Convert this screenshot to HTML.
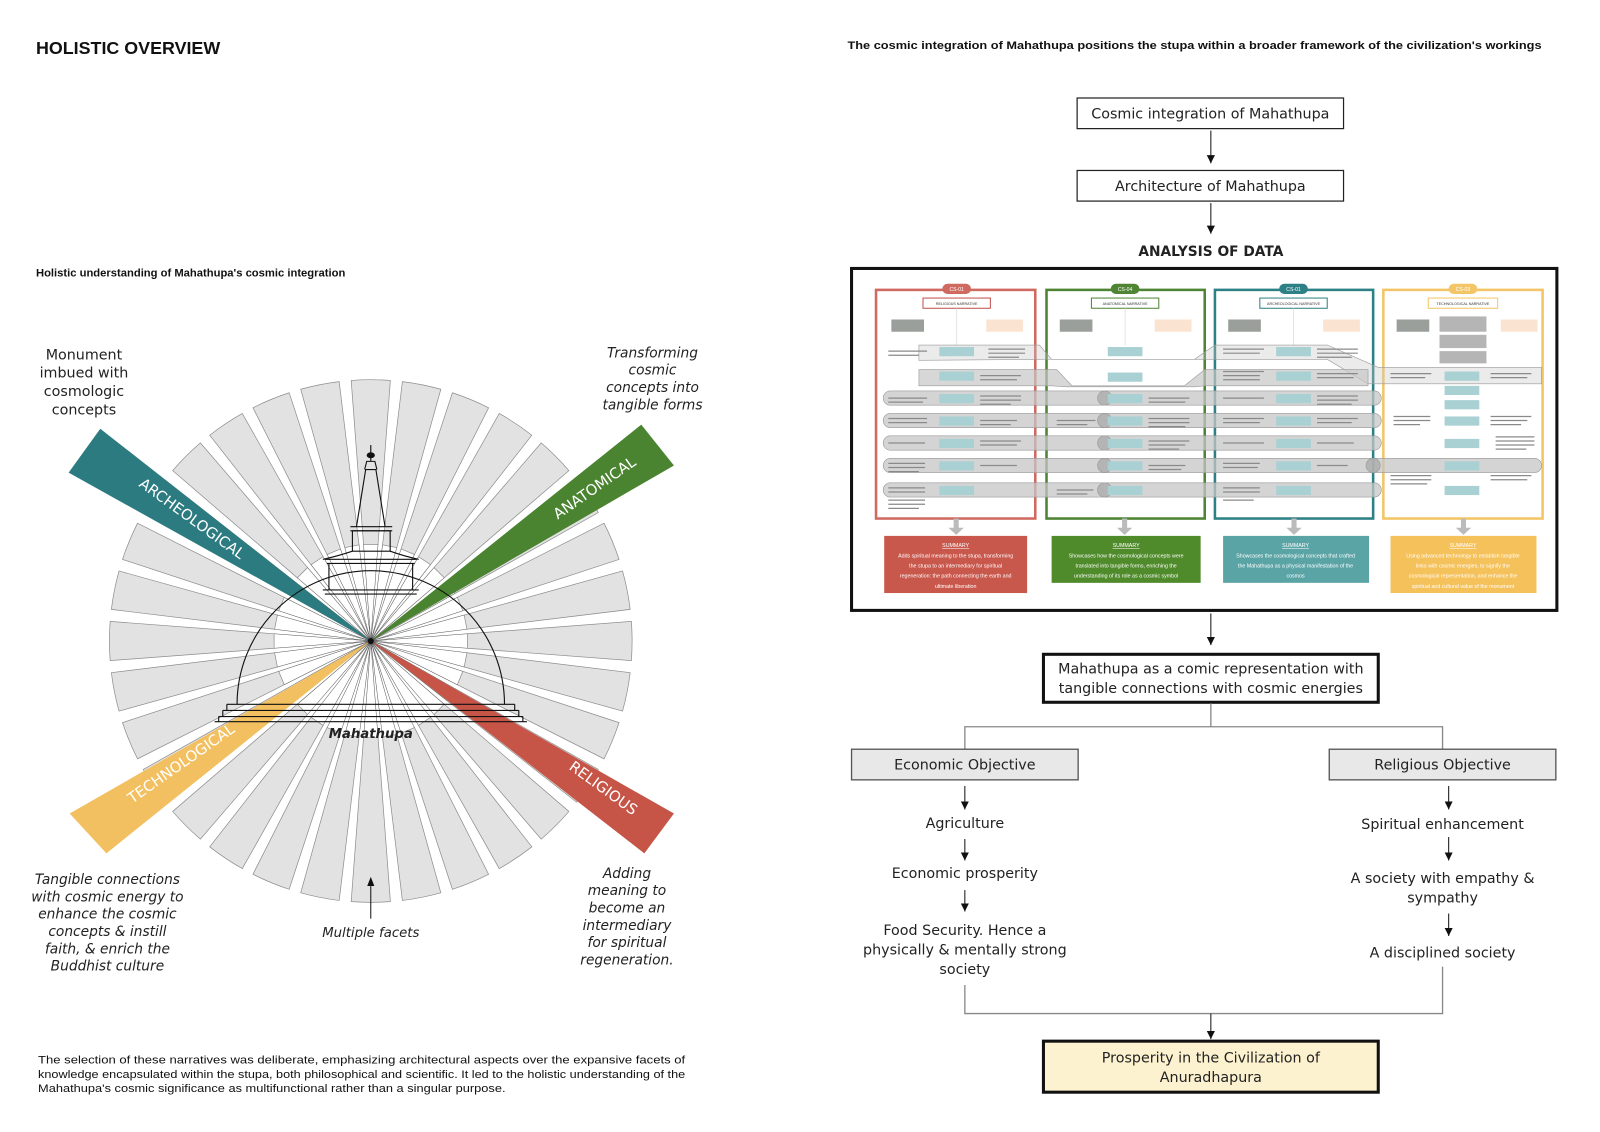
<!DOCTYPE html>
<html><head><meta charset="utf-8">
<style>
html,body{margin:0;padding:0;background:#fff;}
svg{display:block;}
.sans{font-family:"Liberation Sans",Arial,sans-serif;}
.fc{font-family:"DejaVu Sans","Liberation Sans",sans-serif;}
</style></head>
<body>
<svg width="1600" height="1132" viewBox="0 0 1567 1109" xmlns="http://www.w3.org/2000/svg">
<defs>
  <g id="wd">
    <path d="M355.9,533.3 L343.8,372.7 A256,256 0 0 1 382.2,372.7 L370.1,533.3 Z" fill="#e2e2e2" stroke="#8c8c8c" stroke-width="0.7"/>
    <line x1="363" y1="628" x2="355.9" y2="533.3" stroke="#555" stroke-width="0.5"/>
    <line x1="363" y1="628" x2="370.1" y2="533.3" stroke="#555" stroke-width="0.5"/>
  </g>
  <marker id="ah" markerWidth="9" markerHeight="9" refX="8" refY="4" orient="auto" markerUnits="userSpaceOnUse">
    <path d="M0,0 L8,4 L0,8 Z" fill="#111"/>
  </marker>
</defs>

<!-- LEFT -->
<text x="35" y="53" class="sans" font-size="17.5" font-weight="bold" fill="#111">HOLISTIC OVERVIEW</text>
<text x="35" y="271" class="sans" font-size="11" font-weight="bold" fill="#111">Holistic understanding of Mahathupa's cosmic integration</text>

<g>
<use href="#wd" transform="rotate(0 363 628)"/><use href="#wd" transform="rotate(11.25 363 628)"/>
<use href="#wd" transform="rotate(22.5 363 628)"/><use href="#wd" transform="rotate(33.75 363 628)"/>
<use href="#wd" transform="rotate(45 363 628)"/><use href="#wd" transform="rotate(56.25 363 628)"/>
<use href="#wd" transform="rotate(67.5 363 628)"/><use href="#wd" transform="rotate(78.75 363 628)"/>
<use href="#wd" transform="rotate(90 363 628)"/><use href="#wd" transform="rotate(101.25 363 628)"/>
<use href="#wd" transform="rotate(112.5 363 628)"/><use href="#wd" transform="rotate(123.75 363 628)"/>
<use href="#wd" transform="rotate(135 363 628)"/><use href="#wd" transform="rotate(146.25 363 628)"/>
<use href="#wd" transform="rotate(157.5 363 628)"/><use href="#wd" transform="rotate(168.75 363 628)"/>
<use href="#wd" transform="rotate(180 363 628)"/><use href="#wd" transform="rotate(191.25 363 628)"/>
<use href="#wd" transform="rotate(202.5 363 628)"/><use href="#wd" transform="rotate(213.75 363 628)"/>
<use href="#wd" transform="rotate(225 363 628)"/><use href="#wd" transform="rotate(236.25 363 628)"/>
<use href="#wd" transform="rotate(247.5 363 628)"/><use href="#wd" transform="rotate(258.75 363 628)"/>
<use href="#wd" transform="rotate(270 363 628)"/><use href="#wd" transform="rotate(281.25 363 628)"/>
<use href="#wd" transform="rotate(292.5 363 628)"/><use href="#wd" transform="rotate(303.75 363 628)"/>
<use href="#wd" transform="rotate(315 363 628)"/><use href="#wd" transform="rotate(326.25 363 628)"/>
<use href="#wd" transform="rotate(337.5 363 628)"/><use href="#wd" transform="rotate(348.75 363 628)"/>
</g>

<polygon points="363,628 98,420 67,463" fill="#2b7b80"/>
<polygon points="363,628 628,416 660,456" fill="#4a8430"/>
<polygon points="363,628 660,797 631,836" fill="#c65447"/>
<polygon points="363,628 68,797 104,836" fill="#f2c061"/>
<text class="fc" font-size="14.5" fill="#fff" text-anchor="middle" transform="translate(185,512) rotate(36)">ARCHEOLOGICAL</text>
<text class="fc" font-size="14.5" fill="#fff" text-anchor="middle" transform="translate(585,482) rotate(-35)">ANATOMICAL</text>
<text class="fc" font-size="14.5" fill="#fff" text-anchor="middle" transform="translate(180,752) rotate(-35)">TECHNOLOGICAL</text>
<text class="fc" font-size="14.5" fill="#fff" text-anchor="middle" transform="translate(588,776) rotate(36)">RELIGIOUS</text>

<g fill="none" stroke="#111" stroke-width="1.1">
  <path d="M232,690 A131,131 0 0 1 494,690"/>
  <path d="M318,548 L408,548 M320,552 L406,552 M322,552 L322,578 M404,552 L404,578 M316,578 L410,578 M318,582 L408,582"/>
  <path d="M316,548 Q330,545 345,540 M410,548 Q396,545 382,540"/>
  <rect x="345" y="520" width="37" height="20"/>
  <path d="M343,520 L384,520 M343,516 L384,516"/>
  <path d="M349,516 L358,460 L368,460 L377,516"/>
  <path d="M357,460 L359,452 L367,452 L369,460"/>
  <path d="M363,452 L363,436"/>
  <path d="M222,690 L504,690 M218,696 L508,696 M214,702 L512,702 M210,707 L516,707"/>
  <path d="M222,690 L222,696 M504,690 L504,696 M218,696 L218,702 M508,696 L508,702 M214,702 L214,707 M512,702 L512,707"/>
</g>
<ellipse cx="363" cy="446" rx="4" ry="3" fill="#111"/>
<circle cx="363" cy="628" r="3" fill="#111"/>
<text x="363" y="723" class="fc" font-size="13" font-style="italic" font-weight="bold" fill="#222" text-anchor="middle">Mahathupa</text>

<line x1="363" y1="900" x2="363" y2="866" stroke="#111" stroke-width="1"/>
<path d="M359.5,868 L363,859 L366.5,868 Z" fill="#111"/>
<text x="363" y="918" class="fc" font-size="13" font-style="italic" fill="#222" text-anchor="middle">Multiple facets</text>

<g class="fc" font-size="14" fill="#222" text-anchor="middle">
  <text x="82" y="352">Monument</text><text x="82" y="370">imbued with</text>
  <text x="82" y="388">cosmologic</text><text x="82" y="406">concepts</text>
</g>
<g class="fc" font-size="13.5" fill="#222" text-anchor="middle" font-style="italic">
  <text x="639" y="350">Transforming</text><text x="639" y="367">cosmic</text>
  <text x="639" y="384">concepts into</text><text x="639" y="401">tangible forms</text>
  <text x="105" y="866">Tangible connections</text><text x="105" y="883">with cosmic energy to</text>
  <text x="105" y="900">enhance the cosmic</text><text x="105" y="917">concepts &amp; instill</text>
  <text x="105" y="934">faith, &amp; enrich the</text><text x="105" y="951">Buddhist culture</text>
  <text x="614" y="860">Adding</text><text x="614" y="877">meaning to</text>
  <text x="614" y="894">become an</text><text x="614" y="911">intermediary</text>
  <text x="614" y="928">for spiritual</text><text x="614" y="945">regeneration.</text>
</g>

<g class="sans" font-size="11" fill="#111">
  <text x="37" y="1042" textLength="634" lengthAdjust="spacingAndGlyphs">The selection of these narratives was deliberate, emphasizing architectural aspects over the expansive facets of</text>
  <text x="37" y="1056" textLength="634" lengthAdjust="spacingAndGlyphs">knowledge encapsulated within the stupa, both philosophical and scientific. It led to the holistic understanding of the</text>
  <text x="37" y="1070" textLength="458" lengthAdjust="spacingAndGlyphs">Mahathupa's cosmic significance as multifunctional rather than a singular purpose.</text>
</g>

<!-- RIGHT -->
<text x="830" y="48" class="sans" font-size="11" font-weight="bold" fill="#111" textLength="680" lengthAdjust="spacingAndGlyphs">The cosmic integration of Mahathupa positions the stupa within a broader framework of the civilization's workings</text>

<g class="fc" fill="#222">
<rect x="1055" y="96" width="261" height="30" fill="#fff" stroke="#222" stroke-width="1.2"/>
<text x="1185.5" y="116" font-size="14" text-anchor="middle">Cosmic integration of Mahathupa</text>
<line x1="1186" y1="128" x2="1186" y2="160" stroke="#111" marker-end="url(#ah)"/>
<rect x="1055" y="167" width="261" height="30" fill="#fff" stroke="#222" stroke-width="1.2"/>
<text x="1185.5" y="187" font-size="14" text-anchor="middle">Architecture of Mahathupa</text>
<line x1="1186" y1="199" x2="1186" y2="229" stroke="#111" marker-end="url(#ah)"/>
<text x="1186" y="251" font-size="13.5" font-weight="bold" text-anchor="middle">ANALYSIS OF DATA</text>
</g>

<rect x="834" y="263" width="691" height="335" fill="#fff" stroke="#111" stroke-width="3"/>

<g stroke-width="2.5" fill="none">
  <rect x="858" y="284" width="156" height="224" stroke="#cf6a61"/>
  <rect x="1025" y="284" width="155" height="224" stroke="#4e8433"/>
  <rect x="1190" y="284" width="155" height="224" stroke="#2d8085"/>
  <rect x="1355" y="284" width="156" height="224" stroke="#f3c566"/>
</g>
<g class="sans" font-size="5" text-anchor="middle" fill="#fff">
  <rect x="923" y="278" width="28" height="10" rx="5" fill="#cf6a61"/><text x="937" y="285">CS-01</text>
  <rect x="1088" y="278" width="28" height="10" rx="5" fill="#4e8433"/><text x="1102" y="285">CS-04</text>
  <rect x="1253" y="278" width="28" height="10" rx="5" fill="#2d8085"/><text x="1267" y="285">CS-01</text>
  <rect x="1419" y="278" width="28" height="10" rx="5" fill="#f3c566"/><text x="1433" y="285">CS-03</text>
</g>
<g class="sans" font-size="3.6" text-anchor="middle" fill="#333">
  <rect x="904" y="292" width="66" height="10" fill="#fff" stroke="#c0504d"/><text x="937" y="299">RELIGIOUS NARRATIVE</text>
  <rect x="1069" y="292" width="66" height="10" fill="#fff" stroke="#4e8433"/><text x="1102" y="299">ANATOMICAL NARRATIVE</text>
  <rect x="1234" y="292" width="66" height="10" fill="#fff" stroke="#2d8085"/><text x="1267" y="299">ARCHEOLOGICAL NARRATIVE</text>
  <rect x="1399" y="292" width="68" height="10" fill="#fff" stroke="#f3c566"/><text x="1433" y="299">TECHNOLOGICAL NARRATIVE</text>
</g>
<g>
  <rect x="873" y="313" width="32" height="12" fill="#9a9f9b"/><rect x="966" y="313" width="36" height="12" fill="#fbe3d1"/>
  <rect x="1038" y="313" width="32" height="12" fill="#9a9f9b"/><rect x="1131" y="313" width="36" height="12" fill="#fbe3d1"/>
  <rect x="1203" y="313" width="32" height="12" fill="#9a9f9b"/><rect x="1296" y="313" width="36" height="12" fill="#fbe3d1"/>
  <rect x="1368" y="313" width="32" height="12" fill="#9a9f9b"/><rect x="1470" y="313" width="36" height="12" fill="#fbe3d1"/>
  <rect x="1410" y="310" width="46" height="15" fill="#b5b5b5"/><rect x="1410" y="328" width="46" height="13" fill="#b5b5b5"/><rect x="1410" y="344" width="46" height="12" fill="#b5b5b5"/>
  <g stroke="#ddd" stroke-width="0.8"><line x1="937" y1="302" x2="937" y2="338"/><line x1="1102" y1="302" x2="1102" y2="338"/><line x1="1267" y1="302" x2="1267" y2="338"/></g>
</g>
<g fill="#c6c6c6" fill-opacity="0.75" stroke="#999" stroke-width="0.6">
  <path d="M900,338 L1018,338 L1030,352 L1170,352 L1190,338 L1300,338 L1350,360 L1510,360 L1510,376 L1340,376 L1300,352 L1190,352 L1178,352 L1030,352 L900,353 Z" fill-opacity="0.35"/>
  <path d="M900,362 L1035,362 L1050,378 L1160,378 L1180,362 L1340,362 L1340,378 L1180,378 L1170,379 L1045,379 L1030,378 L900,378 Z" fill-opacity="0.7"/>
  <rect x="865" y="383" width="488" height="14" rx="7"/>
  <rect x="865" y="405" width="488" height="14" rx="7"/>
  <rect x="865" y="427" width="488" height="14" rx="7"/>
  <rect x="865" y="449" width="645" height="14" rx="7"/>
  <rect x="865" y="473" width="488" height="14" rx="7"/>
  <g fill="#aaa"><circle cx="1082" cy="390" r="7"/><circle cx="1082" cy="412" r="7"/><circle cx="1082" cy="434" r="7"/><circle cx="1082" cy="456" r="7"/><circle cx="1082" cy="480" r="7"/><circle cx="1345" cy="456" r="7"/></g>
</g>
<g fill="#a9d0d2">
  <rect x="920" y="340" width="34" height="9"/><rect x="1085" y="340" width="34" height="9"/><rect x="1250" y="340" width="34" height="9"/><rect x="1415" y="364" width="34" height="9"/>
  <rect x="920" y="364" width="34" height="9"/><rect x="1085" y="365" width="34" height="9"/><rect x="1250" y="364" width="34" height="9"/><rect x="1415" y="378" width="34" height="9"/>
  <rect x="920" y="386" width="34" height="9"/><rect x="1085" y="386" width="34" height="9"/><rect x="1250" y="386" width="34" height="9"/><rect x="1415" y="392" width="34" height="9"/>
  <rect x="920" y="408" width="34" height="9"/><rect x="1085" y="408" width="34" height="9"/><rect x="1250" y="408" width="34" height="9"/><rect x="1415" y="408" width="34" height="9"/>
  <rect x="920" y="430" width="34" height="9"/><rect x="1085" y="430" width="34" height="9"/><rect x="1250" y="430" width="34" height="9"/><rect x="1415" y="430" width="34" height="9"/>
  <rect x="920" y="452" width="34" height="9"/><rect x="1085" y="452" width="34" height="9"/><rect x="1250" y="452" width="34" height="9"/><rect x="1415" y="452" width="34" height="9"/>
  <rect x="920" y="476" width="34" height="9"/><rect x="1085" y="476" width="34" height="9"/><rect x="1250" y="476" width="34" height="9"/><rect x="1415" y="476" width="34" height="9"/>
</g>
<g stroke="#8a8a8a" stroke-width="1.2">
  <path d="M870,344h38M870,348h30M968,342h36M968,346h36M968,350h30M960,368h40M960,372h36M870,390h38M870,394h34M960,388h40M960,392h40M960,396h30M870,410h38M870,414h38M960,412h36M960,416h30M870,434h36M960,432h40M960,436h36M870,454h36M870,458h36M870,462h30M960,456h36M870,478h36M870,482h36M870,490h36M870,494h36M870,498h30"/>
  <path d="M1035,412h38M1035,416h30M1125,390h40M1125,394h36M1125,410h40M1125,414h40M1125,418h36M1125,432h40M1125,436h36M1125,440h30M1125,456h36M1125,460h32M1035,480h36M1035,484h30"/>
  <path d="M1198,342h40M1198,346h36M1290,342h40M1290,346h40M1290,350h34M1198,364h40M1198,368h36M1198,372h36M1290,366h40M1290,370h36M1198,390h40M1290,388h40M1290,392h40M1290,396h34M1198,410h40M1198,414h36M1290,410h40M1290,414h34M1198,434h40M1290,434h36M1198,454h36M1198,458h34M1290,456h30M1198,478h36M1198,482h36M1198,490h30"/>
  <path d="M1362,366h40M1362,370h34M1460,366h40M1460,370h36M1365,408h36M1365,412h36M1365,416h26M1460,408h40M1460,412h36M1460,416h30M1465,428h38M1465,432h38M1465,436h38M1465,440h30M1362,466h40M1362,470h40M1362,474h36M1460,466h40M1460,470h36"/>
</g>
<g fill="#bbb">
  <rect x="934" y="508" width="5" height="10"/><path d="M929,517 L944,517 L936.5,524 Z"/>
  <rect x="1099" y="508" width="5" height="10"/><path d="M1094,517 L1109,517 L1101.5,524 Z"/>
  <rect x="1265" y="508" width="5" height="10"/><path d="M1260,517 L1275,517 L1267.5,524 Z"/>
  <rect x="1431" y="508" width="5" height="10"/><path d="M1426,517 L1441,517 L1433.5,524 Z"/>
</g>
<rect x="866" y="525" width="140" height="56" fill="#c8574c"/>
<rect x="1030" y="525" width="146" height="46" fill="#4f8a2b"/>
<rect x="1198" y="525" width="143" height="46" fill="#5ba4a6"/>
<rect x="1362" y="525" width="143" height="56" fill="#f5c15a"/>
<g class="sans" font-size="5.2" fill="#fff" text-anchor="middle">
  <text x="936" y="536" text-decoration="underline">SUMMARY</text>
  <text x="936" y="546">Adds spiritual meaning to the stupa, transforming</text>
  <text x="936" y="556">the stupa to an intermediary for spiritual</text>
  <text x="936" y="566">regeneration: the path connecting the earth and</text>
  <text x="936" y="576">ultimate liberation</text>
  <text x="1103" y="536" text-decoration="underline">SUMMARY</text>
  <text x="1103" y="546">Showcases how the cosmological concepts were</text>
  <text x="1103" y="556">translated into tangible forms, enriching the</text>
  <text x="1103" y="566">understanding of its role as a cosmic symbol</text>
  <text x="1269" y="536" text-decoration="underline">SUMMARY</text>
  <text x="1269" y="546">Showcases the cosmological concepts that crafted</text>
  <text x="1269" y="556">the Mahathupa as a physical manifestation of the</text>
  <text x="1269" y="566">cosmos</text>
  <text x="1433" y="536" text-decoration="underline">SUMMARY</text>
  <text x="1433" y="546">Using advanced technology to establish tangible</text>
  <text x="1433" y="556">links with cosmic energies, to signify the</text>
  <text x="1433" y="566">cosmological representation, and enhance the</text>
  <text x="1433" y="576">spiritual and cultural value of the monument</text>
</g>

<g class="fc" fill="#222">
<line x1="1186" y1="601" x2="1186" y2="632" stroke="#111" marker-end="url(#ah)"/>
<rect x="1022" y="641" width="328" height="47" fill="#fff" stroke="#111" stroke-width="3"/>
<text x="1186" y="660" font-size="14" text-anchor="middle">Mahathupa as a comic representation with</text>
<text x="1186" y="679" font-size="14" text-anchor="middle">tangible connections with cosmic energies</text>
<path d="M1186,689 V712 M945,734 V712 H1413 V734" fill="none" stroke="#888" stroke-width="1.3"/>
<rect x="834" y="734" width="222" height="30" fill="#e8e8e8" stroke="#555" stroke-width="1.3"/>
<text x="945" y="754" font-size="14" text-anchor="middle">Economic Objective</text>
<rect x="1302" y="734" width="222" height="30" fill="#e8e8e8" stroke="#555" stroke-width="1.3"/>
<text x="1413" y="754" font-size="14" text-anchor="middle">Religious Objective</text>

<g stroke="#111" stroke-width="1">
<line x1="945" y1="770" x2="945" y2="793" marker-end="url(#ah)"/>
<line x1="945" y1="822" x2="945" y2="843" marker-end="url(#ah)"/>
<line x1="945" y1="872" x2="945" y2="893" marker-end="url(#ah)"/>
<line x1="1419" y1="770" x2="1419" y2="793" marker-end="url(#ah)"/>
<line x1="1419" y1="820" x2="1419" y2="843" marker-end="url(#ah)"/>
<line x1="1419" y1="895" x2="1419" y2="917" marker-end="url(#ah)"/>
</g>
<g font-size="14" text-anchor="middle">
<text x="945" y="811">Agriculture</text>
<text x="945" y="860">Economic prosperity</text>
<text x="945" y="916">Food Security. Hence a</text>
<text x="945" y="935">physically &amp; mentally strong</text>
<text x="945" y="954">society</text>
<text x="1413" y="812">Spiritual enhancement</text>
<text x="1413" y="865">A society with empathy &amp;</text>
<text x="1413" y="884">sympathy</text>
<text x="1413" y="938">A disciplined society</text>
</g>
<path d="M945,965 V993 H1413 V947" fill="none" stroke="#888" stroke-width="1.3"/>
<line x1="1186" y1="993" x2="1186" y2="1018" stroke="#111" marker-end="url(#ah)"/>
<rect x="1022" y="1020" width="328" height="50" fill="#fdf2cf" stroke="#111" stroke-width="3"/>
<text x="1186" y="1041" font-size="14" text-anchor="middle">Prosperity in the Civilization of</text>
<text x="1186" y="1060" font-size="14" text-anchor="middle">Anuradhapura</text>
</g>
</svg>
</body></html>
